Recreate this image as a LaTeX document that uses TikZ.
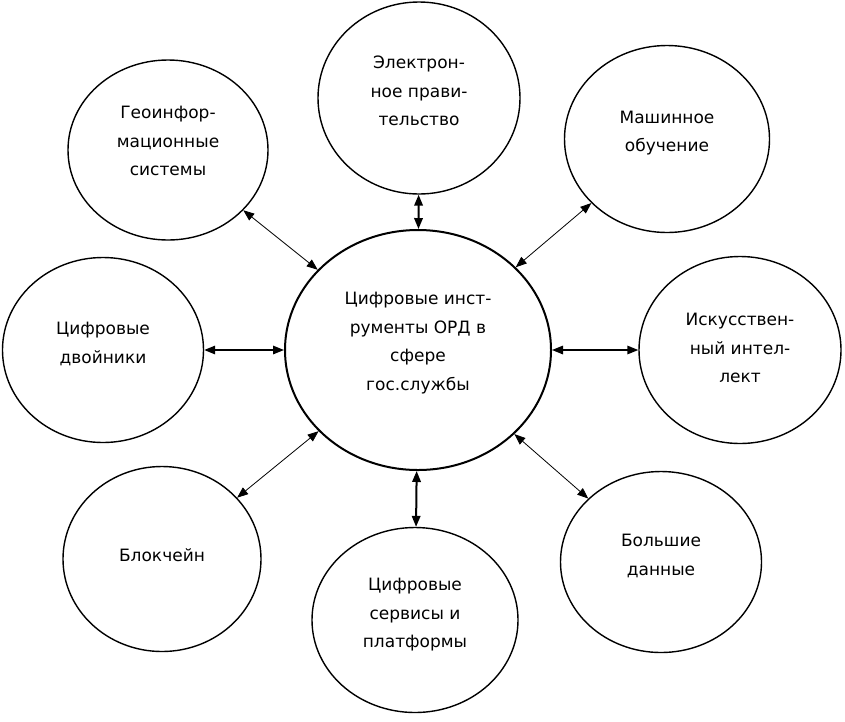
\documentclass[tikz,border=0pt]{standalone}
\usepackage{fontspec}
\setmainfont{DejaVu Sans}
\usetikzlibrary{arrows.meta,shapes.geometric}
\begin{document}
\begin{tikzpicture}[x=1pt,y=-1pt,
  bub/.style={draw, ellipse, line width=1.4pt, inner sep=0pt},
  hubstyle/.style={draw, ellipse, line width=2pt, inner sep=0pt},
  lbl/.style={align=center, font=\fontsize{17}{28.5}\selectfont, inner sep=0pt},
  link/.style={{Triangle[length=11pt,width=8.5pt]}-{Triangle[length=11pt,width=8.5pt]}, line width=0.8pt},
  thicklink/.style={link, line width=1.5pt},
  vlink/.style={link, line width=2pt}]
\useasboundingbox (0,0) rectangle (845,721);

% ellipses
\node[hubstyle, minimum width=266pt, minimum height=240pt] (hub) at (418,350) {};
\node[bub, minimum width=200pt, minimum height=180pt] (geo) at (168,150) {};
\node[bub, minimum width=202pt, minimum height=192pt] (egov) at (419,98) {};
\node[bub, minimum width=205pt, minimum height=187pt] (ml) at (667,139) {};
\node[bub, minimum width=201pt, minimum height=185pt] (twins) at (103,350) {};
\node[bub, minimum width=202pt, minimum height=187pt] (ai) at (740,350) {};
\node[bub, minimum width=198pt, minimum height=185pt] (block) at (162,559) {};
\node[bub, minimum width=206pt, minimum height=185pt] (serv) at (415,620) {};
\node[bub, minimum width=201pt, minimum height=181pt] (big) at (661,562) {};

% labels
\node[lbl] (hubtext) at (418,343) {Цифровые инст-\\рументы ОРД в\\сфере\\гос.службы};
\node[lbl] (geotext) at (168,141) {Геоинфор-\\мационные\\системы};
\node[lbl] (egovtext) at (419,91) {Электрон-\\ное прави-\\тельство};
\node[lbl] (mltext) at (667,133) {Машинное\\обучение};
\node[lbl] (twinstext) at (103,344) {Цифровые\\двойники};
\node[lbl] (aitext) at (740,348) {Искусствен-\\ный интел-\\лект};
\node[lbl] (blocktext) at (162,555) {Блокчейн};
\node[lbl] (servtext) at (415,615) {Цифровые\\сервисы и\\платформы};
\node[lbl] (bigtext) at (661,556) {Большие\\данные};

% connectors
\draw[vlink] (egov) -- (hub);
\draw[vlink] (serv) -- (hub);
\draw[thicklink] (twins) -- (hub);
\draw[thicklink] (ai) -- (hub);
\draw[link] (geo) -- (hub);
\draw[link] (ml) -- (hub);
\draw[link] (block) -- (hub);
\draw[link] (big) -- (hub);
\end{tikzpicture}
\end{document}
